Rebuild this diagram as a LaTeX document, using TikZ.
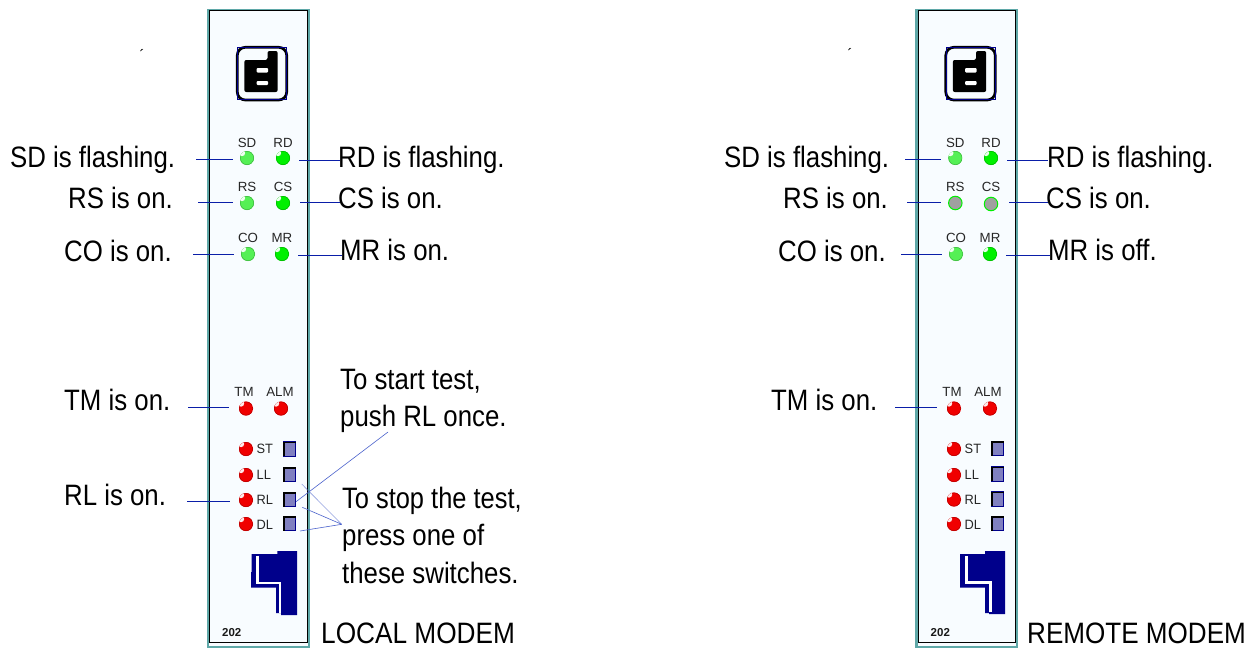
\documentclass[tikz,border=0pt]{standalone}
\usepackage{fontspec}
\setmainfont{Liberation Sans}
\definecolor{panelteal}{HTML}{5FA8A8}
\definecolor{panelbg}{HTML}{F8FCFF}
\definecolor{lnavy}{HTML}{00008B}
\definecolor{lineblue}{HTML}{0A1EA8}
\definecolor{thinblue}{HTML}{4A62CC}
\definecolor{swfill}{HTML}{8080C0}
\definecolor{lgreen}{HTML}{55F055}
\definecolor{dgreen}{HTML}{00F000}
\definecolor{lred}{HTML}{F00000}
\definecolor{lgrey}{HTML}{A0A0A0}
\tikzset{
  x=1pt,y=-1pt,
  biglabel/.style={inner sep=0pt,anchor=base west,font=\fontsize{29.5}{29.5}\selectfont,xscale=.875,text=black},
  capname/.style={inner sep=0pt,anchor=base,font=\fontsize{13.3}{13.3}\selectfont,text=black!85},
  swname/.style={inner sep=0pt,anchor=base west,font=\fontsize{13.5}{13.5}\selectfont,xscale=.95,text=black!85},
  conn/.style={draw=lineblue,line width=.9pt},
  thin link/.style={draw=thinblue,line width=.6pt},
  ledbody/.style={circle,inner sep=0pt,minimum size=14pt},
  swbox/.style={draw=lnavy,fill=swfill,line width=1pt,inner sep=0pt,minimum width=12.5pt,minimum height=14.5pt},
}
\newcommand{\myled}[4]{% name, x, y, colour
  \node[ledbody,fill=#4] (#1) at (#2,#3) {};
  \begin{scope}
    \clip (#2,#3) circle (7);
    \draw[#4!78!black,line width=.8pt] (#2,#3) circle (6.8);
    \fill[white!92!#4] (#2-5,#3-5) circle (3.2);
  \end{scope}
}
\newcommand{\greyled}[3]{%
  \node[ledbody,fill=lgrey,draw=dgreen,line width=1pt,minimum size=13.5pt] (#1) at (#2,#3) {};
}
\newcommand{\mysw}[4]{% name,x,y,label
  \node[swbox] (#1) at (#2,#3) {};
  \fill[black] (#2-6.25,#3-7.25) rectangle (#2+6.25,#3-6);
  \fill[black] (#2-6.25,#3-7.25) rectangle (#2-5,#3+7.25);
}
\newcommand{\panelbase}[1]{% x offset
  \fill[panelbg] (208+#1,10) rectangle (308+#1,647);
  \draw[panelteal,line width=2.2pt] (208+#1,10) rectangle (308.6+#1,647);
  \draw[black,line width=1pt] (209.7+#1,10.5) rectangle (307+#1,642);
  % logo
  \draw[black,line width=2.7pt,rounded corners=8pt] (237.3+#1,47.3) rectangle (286.7+#1,100);
  \draw[lnavy,line width=.6pt] (237.3+#1,47) rectangle (286.7+#1,99.7);
  \fill[black,rounded corners=2pt] (244.3+#1,60) -- (267.5+#1,60) -- (267.5+#1,51) -- (277.7+#1,51) -- (277.7+#1,92) -- (244.3+#1,92) -- cycle;
  \fill[white,rounded corners=1pt] (256.5+#1,68) rectangle (268+#1,72.5);
  \fill[white,rounded corners=1pt] (256.5+#1,81) rectangle (268+#1,85);
  % 202
  \node[inner sep=0pt,anchor=base west,font=\bfseries\fontsize{11.5}{11.5}\selectfont,text=black!90] at (222+#1,636.5) {202};
}
\begin{document}
\begin{tikzpicture}
\useasboundingbox (0,0) rectangle (1249,648);
\fill[white] (0,0) rectangle (1249,648);
% ---------- left panel
\panelbase{0}
\node[inner sep=0pt,font=\fontsize{15}{15}\selectfont] (tickL) at (142,55) {´};
\fill[lnavy] (251.7,554) -- (277.3,554) -- (277.3,551) -- (297,551) -- (297,615) -- (281,615) -- (281,613) -- (276,613) -- (276,587.7) -- (251,587.7) -- (251,572) -- (251.7,572) -- cycle;
\draw[white,line width=2.7pt] (257.3,555.7) -- (257.3,583) -- (280,583) -- (280,612.7);
\node[capname] at (247,147.7) {SD};
\node[capname] at (283,147.7) {RD};
\node[capname] at (247,191.3) {RS};
\node[capname] at (283,191.3) {CS};
\node[capname] at (248,242.3) {CO};
\node[capname] at (282,242.3) {MR};
\node[capname] at (244,396.7) {TM};
\node[capname] at (280,396.7) {ALM};
\myled{lSD}{247}{158}{lgreen}
\myled{lRD}{283}{158}{dgreen}
\myled{lRS}{247}{203}{lgreen}
\myled{lCS}{283}{203}{dgreen}
\myled{lCO}{248}{254}{lgreen}
\myled{lMR}{282}{254}{dgreen}
\myled{lTM}{246}{408.5}{lred}
\myled{lALM}{281}{408.5}{lred}
\myled{lST}{246}{449}{lred}
\myled{lLL}{246}{475}{lred}
\myled{lRL}{246}{500}{lred}
\myled{lDL}{246}{524}{lred}
\node[swname] at (256.5,453.5) {ST};
\node[swname] at (256.5,479.5) {LL};
\node[swname] at (256.5,504.5) {RL};
\node[swname] at (256.5,529) {DL};
\mysw{slST}{289.5}{449}{}
\mysw{slLL}{289.5}{474.5}{}
\mysw{slRL}{289.5}{499.5}{}
\mysw{slDL}{289.5}{523.5}{}
% left labels
\node[biglabel] (tSD) at (10,167.3) {SD is flashing.};
\node[biglabel] (tRS) at (68,208) {RS is on.};
\node[biglabel] (tCO) at (64,261.7) {CO is on.};
\node[biglabel] (tTM) at (64,410) {TM is on.};
\node[biglabel] (tRL) at (64,505) {RL is on.};
\node[biglabel] (tRD) at (338,167) {RD is flashing.};
\node[biglabel] (tCS) at (338,208) {CS is on.};
\node[biglabel] (tMR) at (340,260) {MR is on.};
\node[biglabel] (tA) at (340,389) {To start test,};
\node[biglabel] (tB) at (340,426) {push RL once.};
\node[biglabel,xscale=.985] (tC) at (342,508.5) {To stop the test,};
\node[biglabel] (tD) at (342,545) {press one of};
\node[biglabel] (tE) at (342,583.3) {these switches.};
\node[biglabel,xscale=1.016] (tLocal) at (321,643) {LOCAL MODEM};
% left connectors
\coordinate (a1) at (196,159); \coordinate (a2) at (232.7,159);
\draw[conn] (a1) -- (a2);
\coordinate (a3) at (299,160); \coordinate (a4) at (340,160);
\draw[conn] (a3) -- (a4);
\coordinate (a5) at (198,202); \coordinate (a6) at (233,202);
\draw[conn] (a5) -- (a6);
\coordinate (a7) at (300,202); \coordinate (a8) at (340,202);
\draw[conn] (a7) -- (a8);
\coordinate (a9) at (193,254); \coordinate (a10) at (234,254);
\draw[conn] (a9) -- (a10);
\coordinate (a11) at (298,255); \coordinate (a12) at (342,255);
\draw[conn] (a11) -- (a12);
\coordinate (a13) at (188,407); \coordinate (a14) at (229,407);
\draw[conn] (a13) -- (a14);
\coordinate (a15) at (187,501); \coordinate (a16) at (230,501);
\draw[conn] (a15) -- (a16);
\coordinate (b0) at (296,501.7); \coordinate (b1) at (388,432);
\draw[thin link] (b0) -- (b1);
\coordinate (apex) at (341.7,524.3);
\coordinate (b2) at (301.7,484); \coordinate (b3) at (302.3,507.3); \coordinate (b4) at (300,531);
\draw[thin link,draw opacity=.6] (b2) -- (apex);
\draw[thin link] (b3) -- (apex);
\draw[thin link] (b4) -- (apex);
% ---------- right panel
\panelbase{708.5}
\node[inner sep=0pt,font=\fontsize{15}{15}\selectfont] (tickR) at (850,54) {´};
\fill[lnavy] (960,554) -- (985,554) -- (985,551) -- (1005,551) -- (1005,614) -- (989,614) -- (989,613) -- (985,613) -- (985,587.7) -- (960,587.7) -- cycle;
\draw[white,line width=2.7pt] (966.7,556) -- (966.7,582.7) -- (990.7,582.7) -- (990.7,612);
\node[capname] at (955.3,147.7) {SD};
\node[capname] at (991,147.7) {RD};
\node[capname] at (955.3,191.3) {RS};
\node[capname] at (991,191.3) {CS};
\node[capname] at (956,242.3) {CO};
\node[capname] at (990,242.3) {MR};
\node[capname] at (952,396.7) {TM};
\node[capname] at (988,396.7) {ALM};
\myled{rSD}{955.3}{158}{lgreen}
\myled{rRD}{991}{158}{dgreen}
\greyled{rRS}{955.3}{203}
\greyled{rCS}{991}{204}
\myled{rCO}{956}{254}{lgreen}
\myled{rMR}{990}{254}{dgreen}
\myled{rTM}{954}{408.5}{lred}
\myled{rALM}{990}{408.5}{lred}
\myled{rST}{954}{449}{lred}
\myled{rLL}{954}{475}{lred}
\myled{rRL}{954}{499.5}{lred}
\myled{rDL}{954}{524}{lred}
\node[swname] at (964.5,453.5) {ST};
\node[swname] at (964.5,479.5) {LL};
\node[swname] at (964.5,504) {RL};
\node[swname] at (964.5,529) {DL};
\mysw{srST}{997.5}{448.5}{}
\mysw{srLL}{997.5}{474}{}
\mysw{srRL}{997.5}{499}{}
\mysw{srDL}{997.5}{523.5}{}
% right labels
\node[biglabel] (uSD) at (724,167.3) {SD is flashing.};
\node[biglabel] (uRS) at (783,208) {RS is on.};
\node[biglabel] (uCO) at (778,261.7) {CO is on.};
\node[biglabel] (uTM) at (771,410) {TM is on.};
\node[biglabel] (uRD) at (1047,167) {RD is flashing.};
\node[biglabel] (uCS) at (1046,208) {CS is on.};
\node[biglabel] (uMR) at (1048,260) {MR is off.};
\node[biglabel,xscale=1.01] (uRemote) at (1027,643) {REMOTE MODEM};
% right connectors
\coordinate (c1) at (905,159); \coordinate (c2) at (941,159);
\draw[conn] (c1) -- (c2);
\coordinate (c3) at (1007,160); \coordinate (c4) at (1048,160);
\draw[conn] (c3) -- (c4);
\coordinate (c5) at (907,202); \coordinate (c6) at (941,202);
\draw[conn] (c5) -- (c6);
\coordinate (c7) at (1009,202); \coordinate (c8) at (1048,202);
\draw[conn] (c7) -- (c8);
\coordinate (c9) at (901,254); \coordinate (c10) at (942,254);
\draw[conn] (c9) -- (c10);
\coordinate (c11) at (1006,255); \coordinate (c12) at (1050,255);
\draw[conn] (c11) -- (c12);
\coordinate (c13) at (895,407); \coordinate (c14) at (937,407);
\draw[conn] (c13) -- (c14);
\end{tikzpicture}
\end{document}
